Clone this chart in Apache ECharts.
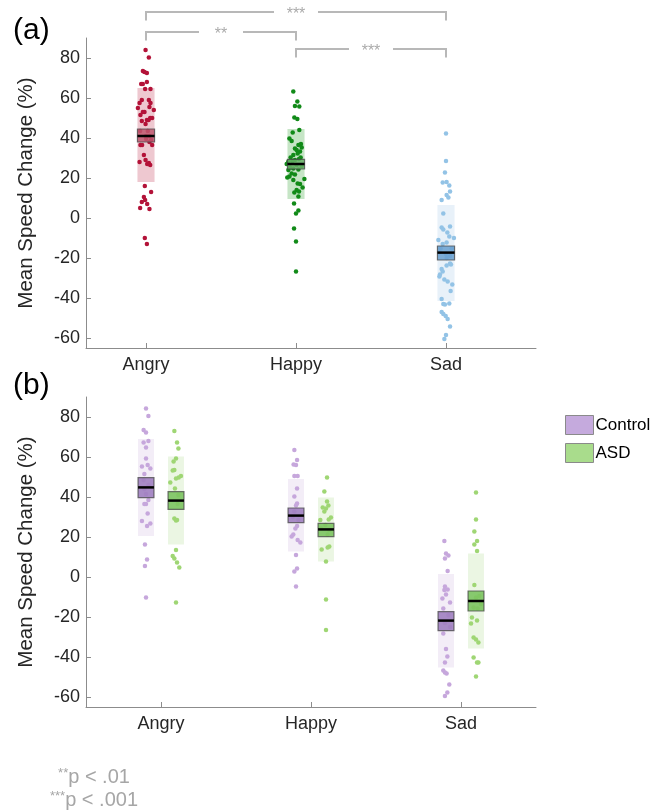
<!DOCTYPE html>
<html>
<head>
<meta charset="utf-8">
<script src="https://cdn.jsdelivr.net/npm/echarts@6/dist/echarts.min.js"></script>
<style>
html, body { margin: 0; padding: 0; background: #fff; }
#chart { width: 660px; height: 811px; }
</style>
</head>
<body>
<div id="chart"></div>
<script>
const categories = ['Angry', 'Happy', 'Sad'];
const yTicks = [-60, -40, -20, 0, 20, 40, 60, 80];

// panel (a), all participants: [jitter, value]
const allAngry = [[-0.003,84],[0.019,80.3],[-0.021,73.5],[-0.01,73],[0.006,72.5],[-0.032,67],[-0.021,67],[0.006,68],[-0.006,64.5],[0.03,64.5],[-0.028,59],[0.019,59],[-0.043,57.5],[0.03,57.5],[-0.054,55],[0.023,55.5],[0.052,54],[-0.01,53],[-0.021,53],[-0.037,51.5],[0.041,50],[0.028,50],[0.006,49],[0.017,49],[-0.028,48.5],[-0.003,47],[-0.039,43.5],[0.012,43.5],[0.001,41],[0.023,41],[0.034,39],[0.001,39.5],[0.023,38],[-0.037,36.5],[-0.026,36.5],[0.041,36.5],[-0.014,31.5],[-0.003,29],[-0.043,28],[0.019,27.5],[0.028,26.5],[0.008,27],[-0.008,16],[0.034,13],[-0.014,10.5],[-0.006,9],[-0.028,8],[0.008,7],[-0.039,5],[0.023,4.5],[-0.008,-10],[0.006,-13]];
const allHappy = [[-0.018,63.2],[0.009,58.2],[-0.007,56],[0.022,55.7],[-0.011,50.2],[0.009,49.5],[0.022,44],[-0.022,42.7],[-0.044,39.8],[-0.029,38.5],[0.033,37],[0.016,36.5],[-0.007,34.8],[0.038,35.2],[0.004,34],[0.027,33.2],[0.011,32.3],[-0.018,31.5],[-0.036,30.3],[0.031,30.3],[-0.007,29],[0.02,29.5],[-0.051,28.2],[-0.024,28.5],[-0.062,27],[0.004,26.5],[0.038,26],[-0.04,25.3],[-0.018,24.8],[-0.051,24],[0.016,24.3],[-0.029,22.3],[-0.007,21.8],[-0.044,20.7],[-0.058,20.2],[-0.018,19],[0.056,19.5],[0.011,17.3],[0.027,17],[0.044,15.2],[0.004,14],[-0.011,12.7],[0.02,13.2],[0.016,10.7],[-0.013,7.3],[0.016,3.7],[0,2.3],[-0.013,-5.2],[0,-11.8],[0,-26.8]];
const allSad = [[0,42.3],[0,28.5],[-0.007,22.7],[-0.022,17.7],[0.004,18],[0.022,16.2],[0.027,13.2],[0.004,11.5],[0.016,10.3],[-0.029,9],[-0.018,2.3],[-0.029,-4.7],[-0.018,-5.7],[0.027,-4.3],[0.009,-7.3],[0.022,-9.3],[0.053,-10],[-0.051,-11],[-0.022,-13],[0.004,-12.3],[-0.036,-15.2],[0.038,-15.2],[-0.044,-17],[0,-18],[0.027,-19],[0.004,-20],[0.027,-22.7],[0.033,-23.2],[0.004,-23.8],[-0.029,-25.5],[-0.04,-28.2],[-0.022,-26.8],[-0.044,-29.3],[-0.011,-30.7],[0.011,-31.8],[0.042,-33.2],[0.031,-36.5],[-0.029,-40.5],[-0.018,-43],[-0.007,-43.2],[0.022,-42.8],[-0.029,-47],[-0.018,-48],[-0.002,-49],[0.011,-50.5],[0.027,-54.3],[0,-58.5],[-0.011,-60.5]];
const allMean = [41, 27, -17.3];
const allSem = [[38, 44.5], [24.5, 29.3], [-21, -14]];
const allBand = [[18, 65], [9.5, 44.5], [-41.5, 6.5]];

// panel (b), Control vs ASD
const ctrlAngry = [[0,84.3],[0.016,80.5],[-0.016,73.5],[0,72.2],[-0.016,67.2],[0.016,68],[0,64.7],[0,59.3],[-0.027,55.2],[0.011,56],[0.029,54.3],[-0.011,51.5],[-0.016,48.5],[0.016,46],[-0.011,44],[0,41.5],[-0.011,36.5],[0,36.5],[0.016,38.5],[0.011,31.8],[-0.027,28],[0.029,26.8],[0.007,25.5],[-0.007,16.3],[0.007,8.8],[-0.007,5.5],[0,-10.2]];
const ctrlHappy = [[-0.011,63.5],[0.007,58.5],[-0.016,56.3],[0,56],[-0.011,50.5],[0.011,50.5],[0.007,44.3],[-0.011,40.2],[0.007,36.8],[0,35.7],[-0.011,32.7],[-0.022,30],[0.016,28.5],[0.007,25.5],[-0.004,24.3],[-0.018,21.3],[-0.029,20.2],[0.011,18.5],[0.029,17.2],[0,11],[0.007,4.3],[-0.011,2.7],[0,-4.8]];
const ctrlSad = [[-0.011,18],[0,11.8],[0.016,10.7],[-0.007,9.3],[0.011,3],[-0.007,-4.8],[0.011,-6.2],[-0.011,-6.5],[0,-8.7],[-0.024,-10.7],[0.027,-12.7],[-0.018,-15.7],[0.016,-19],[-0.007,-23],[0.027,-25],[-0.018,-28.2],[0,-36],[0.009,-39.8],[-0.007,-42.8],[-0.018,-46.8],[-0.007,-47.7],[0.004,-48.2],[0.022,-53.7],[0.009,-57.8],[-0.007,-59.5]];
const asdAngry = [[-0.011,73],[0.007,67.3],[0.016,64.3],[0,59.3],[-0.016,57.7],[-0.022,53.2],[-0.011,53.5],[0.033,50.5],[0.018,49.8],[0,49.3],[-0.038,47.2],[-0.007,44.3],[0.016,41],[0.011,36.5],[-0.011,29.3],[0,28.2],[0.007,28.5],[0,13.5],[-0.022,10.5],[-0.011,9.3],[0.007,7.2],[0.022,4.8],[0,-12.7]];
const asdHappy = [[0.007,49.7],[-0.011,42.7],[0.007,37.7],[0.016,35.7],[-0.022,34.8],[0,34.3],[-0.011,32.7],[0.033,29.8],[0.018,28.8],[-0.038,28.5],[-0.004,26],[-0.033,24.3],[0.022,23.5],[0.011,21.3],[-0.029,13.8],[0.022,15.2],[0.011,14.8],[0,7.7],[0,-11.2],[0,-26.5]];
const asdSad = [[0,42.3],[0,28.8],[-0.011,22.7],[0.007,18],[-0.011,16.3],[0.007,13],[-0.011,-4],[0.022,-9.5],[0,-10.2],[0.033,-13.5],[-0.016,-15.2],[0.011,-15.7],[-0.027,-20.2],[0.007,-21.8],[-0.033,-23.2],[-0.016,-30.2],[0,-31.2],[0.016,-32.8],[-0.016,-40.2],[0.007,-42.7],[0.016,-42.7],[0,-49.8]];
const ctrlMean = [44.8, 30.7, -21.8];
const ctrlSem = [[39.7, 49.7], [27.2, 34.5], [-26.8, -17.3]];
const ctrlBand = [[20.5, 69], [12.7, 49], [-45.3, 1.5]];
const asdMean = [38.2, 23.8, -12];
const asdSem = [[33.8, 42.7], [20.2, 26.8], [-17, -7]];
const asdBand = [[16.3, 60.2], [7.7, 39.8], [-35.7, 11.8]];

// significance brackets (category index pairs) and their heights
const sigPairs = [[0, 2, '***'], [0, 1, '**'], [1, 2, '***']];
const sigLevels = [103, 93, 84.5];

const font = 'Helvetica, Arial, "Liberation Sans", sans-serif';
const axisGray = '#8c8c8c';
const textDark = '#262626';

const colA = {
  dot: ['#b31238', '#118a18', '#93c3e6'],
  band: ['#eec8d0', '#c6e5c6', '#e8f1f9'],
  sem: ['rgba(190,88,112,0.85)', 'rgba(104,178,104,0.85)', 'rgba(104,160,208,0.85)']
};
const colCtrl = { dot: '#c6a7dc', band: '#f3edf7', sem: 'rgba(160,128,192,0.9)' };
const colAsd = { dot: '#9fd674', band: '#ebf6e3', sem: 'rgba(124,196,96,0.9)' };

function summary(band, sem, mean) {
  return categories.map((c, i) => [i, band[i][0], band[i][1], sem[i][0], sem[i][1], mean[i]]);
}

function bandRender(hw, offset, fills) {
  return function (params, api) {
    const x = api.value(0) + offset;
    const a = api.coord([x - hw, api.value(2)]);
    const b = api.coord([x + hw, api.value(1)]);
    return {
      type: 'rect',
      shape: { x: a[0], y: a[1], width: b[0] - a[0], height: b[1] - a[1] },
      style: { fill: fills[params.dataIndex % fills.length] }
    };
  };
}

function semRender(hw, offset, fills) {
  return function (params, api) {
    const x = api.value(0) + offset;
    const a = api.coord([x - hw, api.value(4)]);
    const b = api.coord([x + hw, api.value(3)]);
    const m1 = api.coord([x - hw, api.value(5)]);
    const m2 = api.coord([x + hw, api.value(5)]);
    return {
      type: 'group',
      children: [{
        type: 'rect',
        shape: { x: a[0], y: a[1], width: b[0] - a[0], height: b[1] - a[1] },
        style: { fill: fills[params.dataIndex % fills.length], stroke: 'rgba(70,70,70,0.75)', lineWidth: 1.2 }
      }, {
        type: 'line',
        shape: { x1: m1[0], y1: m1[1], x2: m2[0], y2: m2[1] },
        style: { stroke: '#000', lineWidth: 2.5 }
      }]
    };
  };
}

function bracketRender(params, api) {
  const x1 = api.value(0), x2 = api.value(1), y = api.value(2);
  const top1 = api.coord([x1, y]), top2 = api.coord([x2, y]);
  const low1 = api.coord([x1, y - 4.3]), low2 = api.coord([x2, y - 4.3]);
  const cx = (top1[0] + top2[0]) / 2;
  const gap = 22;
  const st = { stroke: '#b8b8b8', lineWidth: 2, fill: null };
  return {
    type: 'group',
    children: [
      { type: 'polyline', shape: { points: [low1, top1, [cx - gap, top1[1]]] }, style: st },
      { type: 'polyline', shape: { points: [[cx + gap, top2[1]], top2, low2] }, style: st },
      { type: 'text', x: cx, y: top1[1] + 3, style: { text: sigPairs[params.dataIndex][2], fill: '#aaaaaa', fontSize: 16, fontFamily: font, align: 'center', verticalAlign: 'middle' } }
    ]
  };
}

function points(pts, k, offset) {
  return pts.map(p => [k + offset + p[0], p[1]]);
}

function scatter(name, idx, data, color) {
  return {
    name: name, type: 'scatter', xAxisIndex: idx, yAxisIndex: idx,
    data: data, symbolSize: 4.5, z: 3, silent: true,
    itemStyle: { color: color, opacity: 1 }
  };
}

function custom(name, idx, data, render, z, color) {
  return {
    name: name, type: 'custom', xAxisIndex: idx, yAxisIndex: idx,
    data: data, renderItem: render, z: z, silent: true, clip: false,
    encode: { x: 0, y: [1, 2] },
    itemStyle: { color: color }
  };
}

function xAxisCfg(idx, min, max) {
  return {
    type: 'value', gridIndex: idx, min: min, max: max,
    axisLine: { show: true, onZero: false, lineStyle: { color: axisGray, width: 1 } },
    axisTick: { show: true, inside: true, length: 5, customValues: [0, 1, 2], lineStyle: { color: axisGray } },
    axisLabel: { show: true, customValues: [0, 1, 2], formatter: v => categories[Math.round(v)], fontSize: 18, color: textDark, margin: 8, fontFamily: font },
    splitLine: { show: false }
  };
}

function yAxisCfg(idx) {
  return {
    type: 'value', gridIndex: idx, min: -65, max: 90,
    name: 'Mean Speed Change (%)', nameLocation: 'middle', nameGap: 49,
    nameTextStyle: { fontSize: 20.5, color: textDark, fontFamily: font },
    axisLine: { show: true, onZero: false, lineStyle: { color: axisGray, width: 1 } },
    axisTick: { show: true, inside: true, length: 5, customValues: yTicks, lineStyle: { color: axisGray } },
    axisLabel: { show: true, customValues: yTicks, fontSize: 18, color: textDark, margin: 6, fontFamily: font },
    splitLine: { show: false }
  };
}

const chart = echarts.init(document.getElementById('chart'));

const hwA = 0.057, hwB = 0.053, off = 0.1;
const series = [
  custom('allBand', 0, summary(allBand, allSem, allMean), bandRender(hwA, 0, colA.band), 1),
  scatter('Angry', 0, points(allAngry, 0, 0), colA.dot[0]),
  scatter('Happy', 0, points(allHappy, 1, 0), colA.dot[1]),
  scatter('Sad', 0, points(allSad, 2, 0), colA.dot[2]),
  custom('allSem', 0, summary(allBand, allSem, allMean), semRender(hwA, 0, colA.sem), 4),
  {
    name: 'sig', type: 'custom', xAxisIndex: 0, yAxisIndex: 0, silent: true, clip: false, z: 5,
    data: sigPairs.map((p, i) => [p[0], p[1], sigLevels[i]]),
    encode: { x: [0, 1], y: 2 },
    renderItem: bracketRender
  },
  custom('ctrlBand', 1, summary(ctrlBand, ctrlSem, ctrlMean), bandRender(hwB, -off, [colCtrl.band]), 1),
  custom('asdBand', 1, summary(asdBand, asdSem, asdMean), bandRender(hwB, off, [colAsd.band]), 1),
  scatter('ctrlPts', 1, [].concat(points(ctrlAngry, 0, -off), points(ctrlHappy, 1, -off), points(ctrlSad, 2, -off)), colCtrl.dot),
  scatter('asdPts', 1, [].concat(points(asdAngry, 0, off), points(asdHappy, 1, off), points(asdSad, 2, off)), colAsd.dot),
  custom('Control', 1, summary(ctrlBand, ctrlSem, ctrlMean), semRender(hwB, -off, [colCtrl.sem]), 4, '#c5aadd'),
  custom('ASD', 1, summary(asdBand, asdSem, asdMean), semRender(hwB, off, [colAsd.sem]), 4, '#a9dc8c')
];

chart.setOption({
  animation: false,
  backgroundColor: '#fff',
  textStyle: { fontFamily: font },
  grid: [
    { left: 86, top: 38, width: 450, height: 310 },
    { left: 86, top: 397, width: 450, height: 310 }
  ],
  xAxis: [xAxisCfg(0, -0.4, 2.6), xAxisCfg(1, -0.5, 2.5)],
  yAxis: [yAxisCfg(0), yAxisCfg(1)],
  legend: {
    data: ['Control', 'ASD'], left: 560, top: 410, orient: 'vertical',
    icon: 'rect', itemWidth: 28, itemHeight: 19, itemGap: 8, selectedMode: false,
    textStyle: { fontSize: 17, color: '#000', fontFamily: font, padding: [0, 0, 0, -3] },
    itemStyle: { borderColor: '#8a8a8a', borderWidth: 1 }
  },
  graphic: [
    { type: 'text', x: 13, y: 31, style: { text: '(a)', fontSize: 30, fill: '#000', fontFamily: font, verticalAlign: 'middle' } },
    { type: 'text', x: 13, y: 386, style: { text: '(b)', fontSize: 30, fill: '#000', fontFamily: font, verticalAlign: 'middle' } },
    { type: 'text', x: 94, y: 777, style: { text: '{s|**}{n|p < .01}', align: 'center', verticalAlign: 'middle', rich: { s: { fontSize: 13, fill: '#a6a6a6', verticalAlign: 'top', fontFamily: font }, n: { fontSize: 20, fill: '#a6a6a6', fontFamily: font } } } },
    { type: 'text', x: 94, y: 800, style: { text: '{s|***}{n|p < .001}', align: 'center', verticalAlign: 'middle', rich: { s: { fontSize: 13, fill: '#a6a6a6', verticalAlign: 'top', fontFamily: font }, n: { fontSize: 20, fill: '#a6a6a6', fontFamily: font } } } }
  ],
  series: series
});
</script>
</body>
</html>
